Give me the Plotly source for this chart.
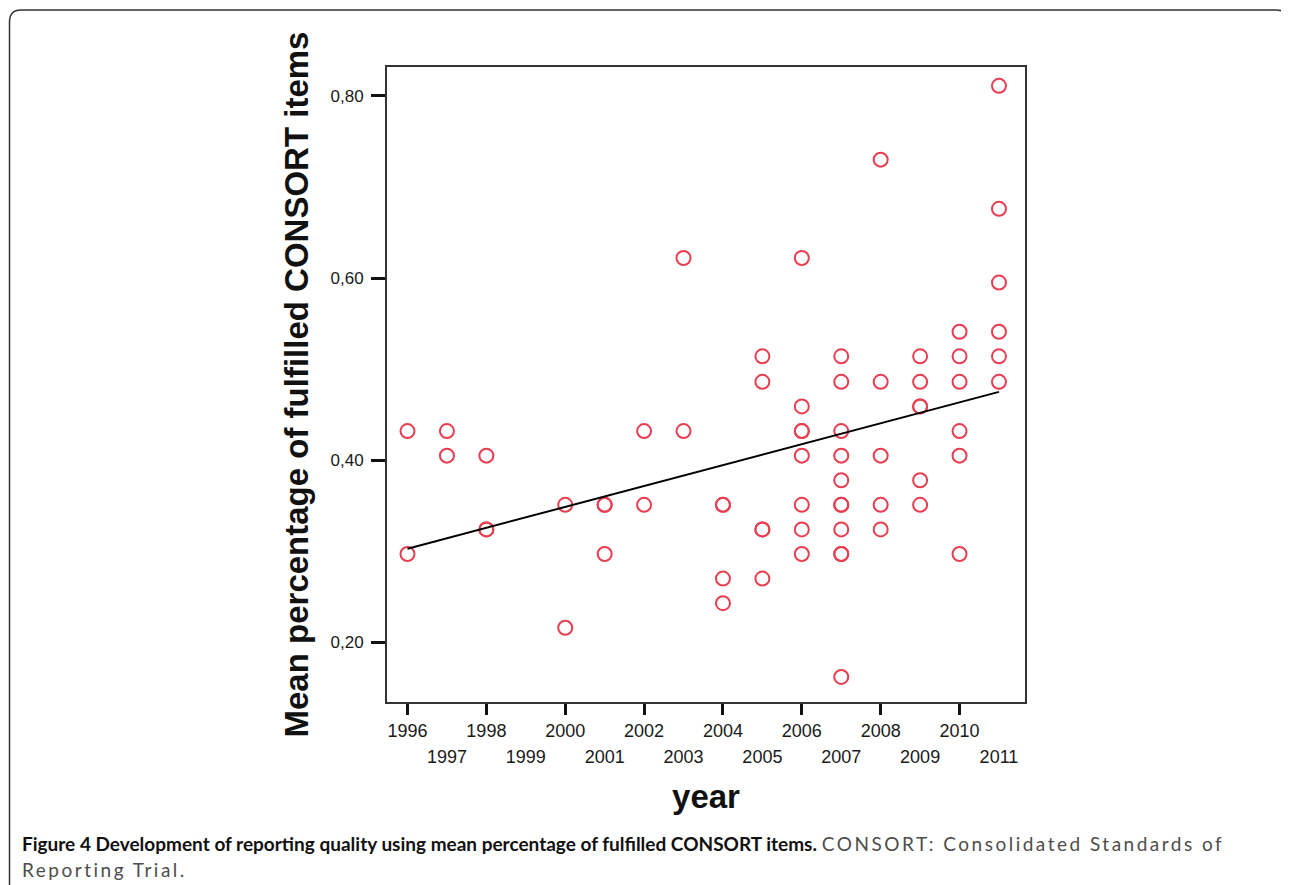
import numpy as np
import plotly.graph_objects as go

# ---- data (publication year, mean share of fulfilled CONSORT items) ----
years = [1996, 1996,
         1997, 1997,
         1998, 1998, 1998,
         2000, 2000,
         2001, 2001, 2001,
         2002, 2002,
         2003, 2003,
         2004, 2004, 2004, 2004,
         2005, 2005, 2005, 2005, 2005,
         2006, 2006, 2006, 2006, 2006, 2006, 2006, 2006,
         2007, 2007, 2007, 2007, 2007, 2007, 2007, 2007, 2007, 2007, 2007,
         2008, 2008, 2008, 2008, 2008,
         2009, 2009, 2009, 2009, 2009, 2009,
         2010, 2010, 2010, 2010, 2010, 2010,
         2011, 2011, 2011, 2011, 2011, 2011]
mean_pct = [0.432, 0.297,
            0.432, 0.405,
            0.405, 0.324, 0.324,
            0.351, 0.216,
            0.351, 0.351, 0.297,
            0.432, 0.351,
            0.622, 0.432,
            0.351, 0.351, 0.270, 0.243,
            0.514, 0.486, 0.324, 0.324, 0.270,
            0.622, 0.459, 0.432, 0.432, 0.405, 0.351, 0.324, 0.297,
            0.514, 0.486, 0.432, 0.405, 0.378, 0.351, 0.351, 0.324, 0.297, 0.297, 0.162,
            0.730, 0.486, 0.405, 0.351, 0.324,
            0.514, 0.486, 0.459, 0.459, 0.378, 0.351,
            0.541, 0.514, 0.486, 0.432, 0.405, 0.297,
            0.811, 0.676, 0.595, 0.541, 0.514, 0.486]

even_years = [1996, 1998, 2000, 2002, 2004, 2006, 2008, 2010]
odd_years = [1997, 1999, 2001, 2003, 2005, 2007, 2009, 2011]
y_ticks = [0.20, 0.40, 0.60, 0.80]
y_tick_text = ["0,20", "0,40", "0,60", "0,80"]

caption_bold = "Figure 4 Development of reporting quality using mean percentage of fulfilled CONSORT items."
caption_rest = "CONSORT: Consolidated Standards of"
caption_line2 = "Reporting Trial."

# ---- linear fit ----
slope, intercept = np.polyfit(years, mean_pct, 1)
fit_x = np.array([min(years), max(years)])
fit_y = slope * fit_x + intercept

# the page body adds an 8px margin, so the figure is laid out 8px smaller
OFF = 8
W, H = 1289 - OFF, 885 - OFF
ML, MT = 387 - OFF, 67 - OFF
MR = W - (1025 - OFF)
MB = H - (702 - OFF)
PW, PH = W - ML - MR, H - MT - MB


def px(x):
    return (x - OFF - ML) / PW


def py(y):
    return (H - MB - (y - OFF)) / PH


red = "rgb(232,62,80)"
FAM = "Liberation Sans, Arial, sans-serif"
x_font = dict(family=FAM, size=18, color="#1a1a1a")
y_font = dict(family=FAM, size=17, color="#1a1a1a")

fig = go.Figure()
fig.add_trace(go.Scatter(
    x=years, y=mean_pct, mode="markers",
    marker=dict(symbol="circle-open", size=14, color=red, line=dict(width=2, color=red)),
    showlegend=False, hoverinfo="x+y"))
fig.add_trace(go.Scatter(
    x=fit_x, y=fit_y, mode="lines",
    line=dict(color="black", width=2), showlegend=False, hoverinfo="skip"))
# invisible carrier trace for the second (odd-year label) axis
fig.add_trace(go.Scatter(
    x=years, y=mean_pct, mode="markers", xaxis="x2",
    marker=dict(opacity=0), showlegend=False, hoverinfo="skip"))

fig.update_layout(
    width=W, height=H,
    margin=dict(l=ML, r=MR, t=MT, b=MB, autoexpand=False),
    paper_bgcolor="white", plot_bgcolor="white",
    xaxis=dict(
        range=[1995.48, 2011.66], tickmode="array", tickvals=even_years,
        ticktext=[str(v) for v in even_years],
        ticks="outside", ticklen=11, tickwidth=3, tickcolor="#111",
        showline=True, linecolor="#333", linewidth=2, mirror=True,
        showgrid=False, zeroline=False, tickfont=x_font,
        title=dict(text="<b>year</b>", font=dict(family=FAM, size=33, color="#111"),
                   standoff=45),
        automargin=False,
    ),
    xaxis2=dict(
        overlaying="x", matches="x", anchor="y", side="bottom",
        tickmode="array", tickvals=odd_years, ticktext=[str(v) for v in odd_years],
        ticks="", showline=False, showgrid=False, zeroline=False,
        tickfont=x_font, ticklabelstandoff=42, automargin=False,
    ),
    yaxis=dict(
        range=[0.1345, 0.8317], tickmode="array", tickvals=y_ticks, ticktext=y_tick_text,
        ticks="outside", ticklen=14, tickwidth=3, tickcolor="#111",
        showline=True, linecolor="#333", linewidth=2, mirror=True,
        showgrid=False, zeroline=False, tickfont=y_font, ticklabelstandoff=4,
        title=dict(text="<b>Mean percentage of fulfilled CONSORT items</b>",
                   font=dict(family=FAM, size=33, color="#111"),
                   standoff=12),
        automargin=False,
    ),
)

# caption
cap_font = dict(family="Lato, sans-serif", size=19, color="#111")
gray = "color:#4d4d4d;letter-spacing:2.5px"
fig.add_annotation(
    xref="paper", yref="paper", x=px(20), y=py(843), xanchor="left", yanchor="middle",
    showarrow=False, align="left",
    text=f"<b>{caption_bold}</b> <span style='{gray}'>{caption_rest}</span>",
    font=cap_font)
fig.add_annotation(
    xref="paper", yref="paper", x=px(20), y=py(869), xanchor="left", yanchor="middle",
    showarrow=False, align="left",
    text=f"<span style='{gray}'>{caption_line2}</span>",
    font=cap_font)

# rounded outer frame of the figure panel (left edge kept just inside the figure)
path = (f"M {px(9.5)},{py(900)} L {px(9.5)},{py(22)} Q {px(9.5)},{py(10)} {px(21)},{py(10)} "
        f"L {px(1276)},{py(10)} Q {px(1288)},{py(10)} {px(1288)},{py(22)} L {px(1288)},{py(900)}")
fig.add_shape(type="path", xref="paper", yref="paper", path=path,
              line=dict(color="#333", width=1.5))

fig.write_html("out.html")
